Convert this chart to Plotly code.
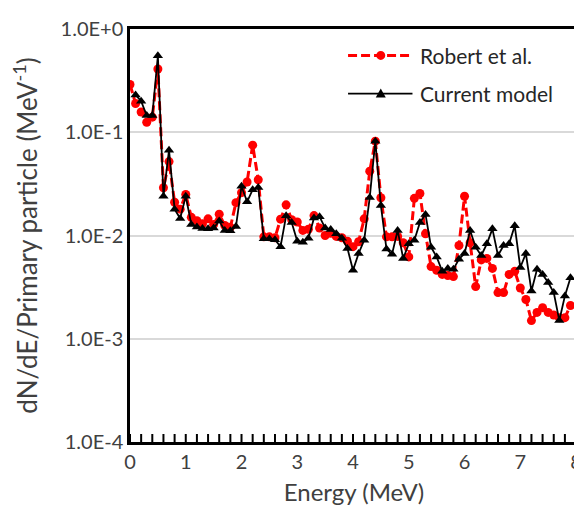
import math
import plotly.graph_objects as go

# Energies (MeV)
energy_robert = [round(0.1 * k, 1) for k in range(0, 80)]      # 0.0 .. 7.9
energy_model = [round(0.1 * k, 1) for k in range(1, 80)]       # 0.1 .. 7.9

# Robert et al. (dN/dE per primary particle, MeV^-1)
robert_vals = [
    0.29, 0.19, 0.157, 0.125, 0.14, 0.41, 0.029, 0.052, 0.021, 0.018,
    0.025, 0.015, 0.0139, 0.013, 0.0145, 0.0128, 0.0161, 0.0125, 0.012, 0.0208,
    0.026, 0.033, 0.075, 0.0347, 0.0097, 0.0097, 0.0095, 0.0144, 0.0198, 0.0142,
    0.0135, 0.0112, 0.0115, 0.0156, 0.0118, 0.0100, 0.0105, 0.0098, 0.0095, 0.0088,
    0.0078, 0.0087, 0.0145, 0.042, 0.082, 0.0232, 0.0097, 0.0097, 0.0098, 0.0085,
    0.0062, 0.0229, 0.0255, 0.0104, 0.0050, 0.0046, 0.0042, 0.0041, 0.0040, 0.0080,
    0.0240, 0.0085, 0.0032, 0.0058, 0.0060, 0.0048, 0.0028, 0.0028, 0.0042, 0.0045,
    0.0031, 0.0024, 0.0015, 0.0018, 0.0020, 0.0018, 0.0017, 0.0016, 0.0016, 0.0021,
]

# Current model
model_vals = [
    0.23, 0.20, 0.145, 0.145, 0.55, 0.024, 0.067, 0.018, 0.0146,
    0.024, 0.0128, 0.0121, 0.0117, 0.0116, 0.0118, 0.0138, 0.0112, 0.0111, 0.0122,
    0.030, 0.0212, 0.0278, 0.0292, 0.0093, 0.0093, 0.0091, 0.0078, 0.0155, 0.0134,
    0.0088, 0.0086, 0.0094, 0.0148, 0.0152, 0.0118, 0.0114, 0.0104, 0.0094, 0.0075,
    0.0046, 0.0067, 0.0090, 0.0234, 0.082, 0.0195, 0.0074, 0.0066, 0.0112, 0.0060,
    0.0083, 0.0090, 0.0134, 0.0160, 0.0077, 0.0062, 0.0045, 0.0048, 0.0047, 0.0059,
    0.0067, 0.0112, 0.0077, 0.0064, 0.0083, 0.0116, 0.0064, 0.0080, 0.0083, 0.0124,
    0.0049, 0.0067, 0.0029, 0.0047, 0.0042, 0.0035, 0.0028, 0.0015, 0.0026, 0.0039,
]

series_names = ["Robert et al.", "Current model"]
series_colors = ["#ff0000", "#000000"]
y_tick_vals = [1e-4, 1e-3, 1e-2, 1e-1, 1e0]
y_tick_text = ["1.0E-4", "1.0E-3", "1.0E-2", "1.0E-1", "1.0E+0"]
y_minor_vals = [m * 10.0 ** e for e in range(-4, 0) for m in range(2, 10)]
x_tick_vals = [0, 1, 2, 3, 4, 5, 6, 7, 8]
x_minor_vals = [round(0.2 * k, 1) for k in range(1, 41) if k % 5 != 0]

FONT = "Lato"
TICK_COLOR = "#404040"
RED_DASH = "9px,4px"

# page offset of the plotly div (body margin) and plot-area geometry in page pixels
OFF = 8
PLOT_L, PLOT_T, PLOT_W, PLOT_H = 130, 20, 452, 422
W, H = 582, 511


def px_x(p):
    return (p - PLOT_L) / PLOT_W


def px_y(p):
    return 1 - (p - PLOT_T) / PLOT_H


fig = go.Figure()
fig.add_trace(go.Scatter(
    x=energy_robert, y=robert_vals, name=series_names[0], mode="lines+markers",
    line=dict(color=series_colors[0], width=3, dash=RED_DASH),
    marker=dict(symbol="circle", size=9, color=series_colors[0]),
))
fig.add_trace(go.Scatter(
    x=energy_model, y=model_vals, name=series_names[1], mode="lines+markers",
    line=dict(color=series_colors[1], width=1.8),
    marker=dict(symbol="triangle-up", size=9, color=series_colors[1]),
))

shapes = []

# inside tick marks, placed on the axes' own scales
for v in x_tick_vals + x_minor_vals:
    shapes.append(dict(
        type="line", xref="x", yref="paper", ysizemode="pixel", yanchor=0,
        x0=v, x1=v, y0=0, y1=8, line=dict(color="black", width=2), layer="above",
    ))
for v in y_tick_vals + y_minor_vals:
    shapes.append(dict(
        type="line", xref="paper", yref="y", xsizemode="pixel", xanchor=0,
        x0=0, x1=8 if v in y_tick_vals else 7, y0=math.log10(v), y1=math.log10(v),
        line=dict(color="black", width=2), layer="above",
    ))

# custom legend (long line samples like the reference)
legend_rows = [47, 86]
annotations = []
for i, (name, col) in enumerate(zip(series_names, series_colors)):
    yy = px_y(legend_rows[i])
    shapes.append(dict(
        type="line", xref="paper", yref="paper",
        x0=px_x(350), x1=px_x(415), y0=yy, y1=yy,
        line=dict(color=col, width=3 if i == 0 else 1.8, dash=RED_DASH if i == 0 else "solid"),
    ))
    if i == 0:
        shapes.append(dict(
            type="circle", xref="paper", yref="paper", xsizemode="pixel", ysizemode="pixel",
            xanchor=px_x(383), yanchor=yy, x0=-4.5, x1=4.5, y0=-4.5, y1=4.5,
            fillcolor=col, line=dict(color=col, width=0),
        ))
    else:
        shapes.append(dict(
            type="path", xref="paper", yref="paper", xsizemode="pixel", ysizemode="pixel",
            xanchor=px_x(383), yanchor=yy, path="M-5,-4 L5,-4 L0,5 Z",
            fillcolor=col, line=dict(color=col, width=0),
        ))
    annotations.append(dict(
        xref="paper", yref="paper", x=px_x(421), y=yy, xanchor="left", yanchor="middle",
        text=name, showarrow=False, font=dict(family=FONT, size=21, color="#262626"),
    ))

fig.update_layout(
    width=W, height=H,
    margin=dict(l=PLOT_L - OFF, r=W - (PLOT_L - OFF) - PLOT_W, t=PLOT_T - OFF,
                b=H - (PLOT_T - OFF) - PLOT_H),
    paper_bgcolor="white", plot_bgcolor="white",
    font=dict(family=FONT, size=20, color=TICK_COLOR),
    showlegend=False,
    shapes=shapes,
    annotations=annotations,
)

fig.update_xaxes(
    range=[0, 8.035],
    tickvals=x_tick_vals, ticks="",
    showline=True, linecolor="black", linewidth=2.5, mirror=True,
    showgrid=False, zeroline=False, ticklabeloverflow="allow",
    tickfont=dict(family=FONT, size=20, color=TICK_COLOR),
    title=dict(text="Energy (MeV)", font=dict(family=FONT, size=24, color=TICK_COLOR), standoff=13),
)

fig.update_yaxes(
    type="log", range=[-4, 0],
    tickvals=y_tick_vals, ticktext=y_tick_text, ticks="",
    showline=True, linecolor="black", linewidth=2.5,
    showgrid=True, gridcolor="#d9d9d9", gridwidth=1.5,
    zeroline=False, ticklabeloverflow="allow",
    tickfont=dict(family=FONT, size=20, color=TICK_COLOR),
    title=dict(text="dN/dE/Primary particle (MeV<sup>-1</sup>)",
               font=dict(family=FONT, size=26, color=TICK_COLOR), standoff=22),
)

fig.write_html("out.html")
